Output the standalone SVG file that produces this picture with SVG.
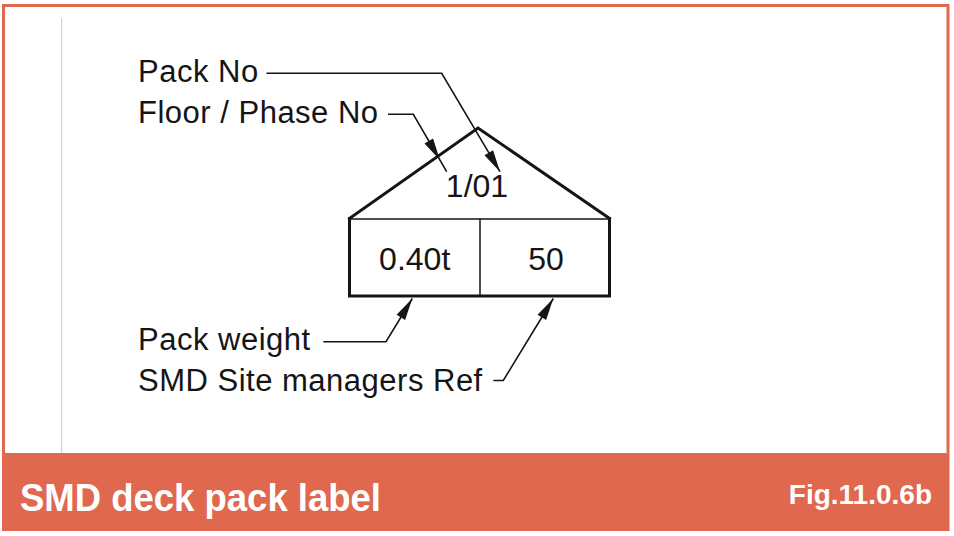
<svg xmlns="http://www.w3.org/2000/svg" width="954" height="536" viewBox="0 0 954 536">
  <style>
    .lbl { font-family: "Liberation Sans", Arial, sans-serif; font-size: 31px; fill: #151515; letter-spacing: 0.5px; }
    .cell { font-family: "Liberation Sans", Arial, sans-serif; font-size: 32px; fill: #151515; text-anchor: middle; }
    .lead { fill: none; stroke: #151515; stroke-width: 1.6; stroke-linejoin: miter; }
    .bold { fill: none; stroke: #151515; stroke-width: 3; stroke-linejoin: miter; stroke-linecap: square; }
    .thin { fill: none; stroke: #151515; stroke-width: 1.5; }
    .title { font-family: "Liberation Sans", Arial, sans-serif; font-weight: bold; fill: #ffffff; }
  </style>
  <defs>
    <marker id="arrow" viewBox="-23 -6 24 12" refX="0" refY="0" markerWidth="24" markerHeight="12" markerUnits="userSpaceOnUse" orient="auto">
      <path d="M0,0 L-22,-5 L-22,5 Z" fill="#151515"/>
    </marker>
  </defs>

  <rect width="954" height="536" fill="#ffffff"/>

  <g id="frame">
    <rect x="3.5" y="5.5" width="944.5" height="524" fill="none" stroke="#E0684F" stroke-width="3"/>
    <line x1="61.7" y1="18" x2="61.7" y2="453" stroke="#BBCBE3" stroke-width="1"/>
  </g>

  <g id="title-bar">
    <rect x="3" y="453" width="945.5" height="76.5" fill="#E0684F"/>
    <text class="title" x="20" y="510.7" font-size="38" textLength="361" lengthAdjust="spacingAndGlyphs">SMD deck pack label</text>
    <text class="title" x="932" y="504.3" font-size="28" text-anchor="end">Fig.11.0.6b</text>
  </g>

  <g id="pack-label">
    <polyline class="bold" points="349.5,218.5 478,128 609.5,218.5"/>
    <line class="thin" x1="349.5" y1="219" x2="609.5" y2="219"/>
    <polyline class="bold" points="349.5,218.5 349.5,296 609.5,296 609.5,218.5"/>
    <line class="thin" x1="480" y1="219" x2="480" y2="296"/>
    <text class="cell" x="477" y="197" font-size="30">1/01</text>
    <text class="cell" x="414.7" y="270">0.40t</text>
    <text class="cell" x="546" y="270">50</text>
  </g>

  <g id="label-pack-no">
    <text class="lbl" x="138" y="81.7">Pack No</text>
  </g>
  <g id="label-floor-phase">
    <text class="lbl" x="138" y="122.7">Floor / Phase No</text>
  </g>
  <g id="label-pack-weight">
    <text class="lbl" x="138" y="350">Pack weight</text>
  </g>
  <g id="label-site-ref">
    <text class="lbl" x="138" y="391">SMD Site managers Ref</text>
  </g>

  <g id="connectors">
    <polyline class="lead" points="266.5,73.3 441.7,73.3 500,171.7" marker-end="url(#arrow)"/>
    <polyline class="lead" points="388,114.3 413.3,114.3 446.7,171.7"/>
    <polygon points="439.9,160 424.5,143.6 433.1,138.6" fill="#151515"/>
    <polyline class="lead" points="323.3,341.7 386,341.7 412.3,298.5" marker-end="url(#arrow)"/>
    <polyline class="lead" points="493.3,380.5 503.3,380.5 553.3,298.5" marker-end="url(#arrow)"/>
  </g>
</svg>
